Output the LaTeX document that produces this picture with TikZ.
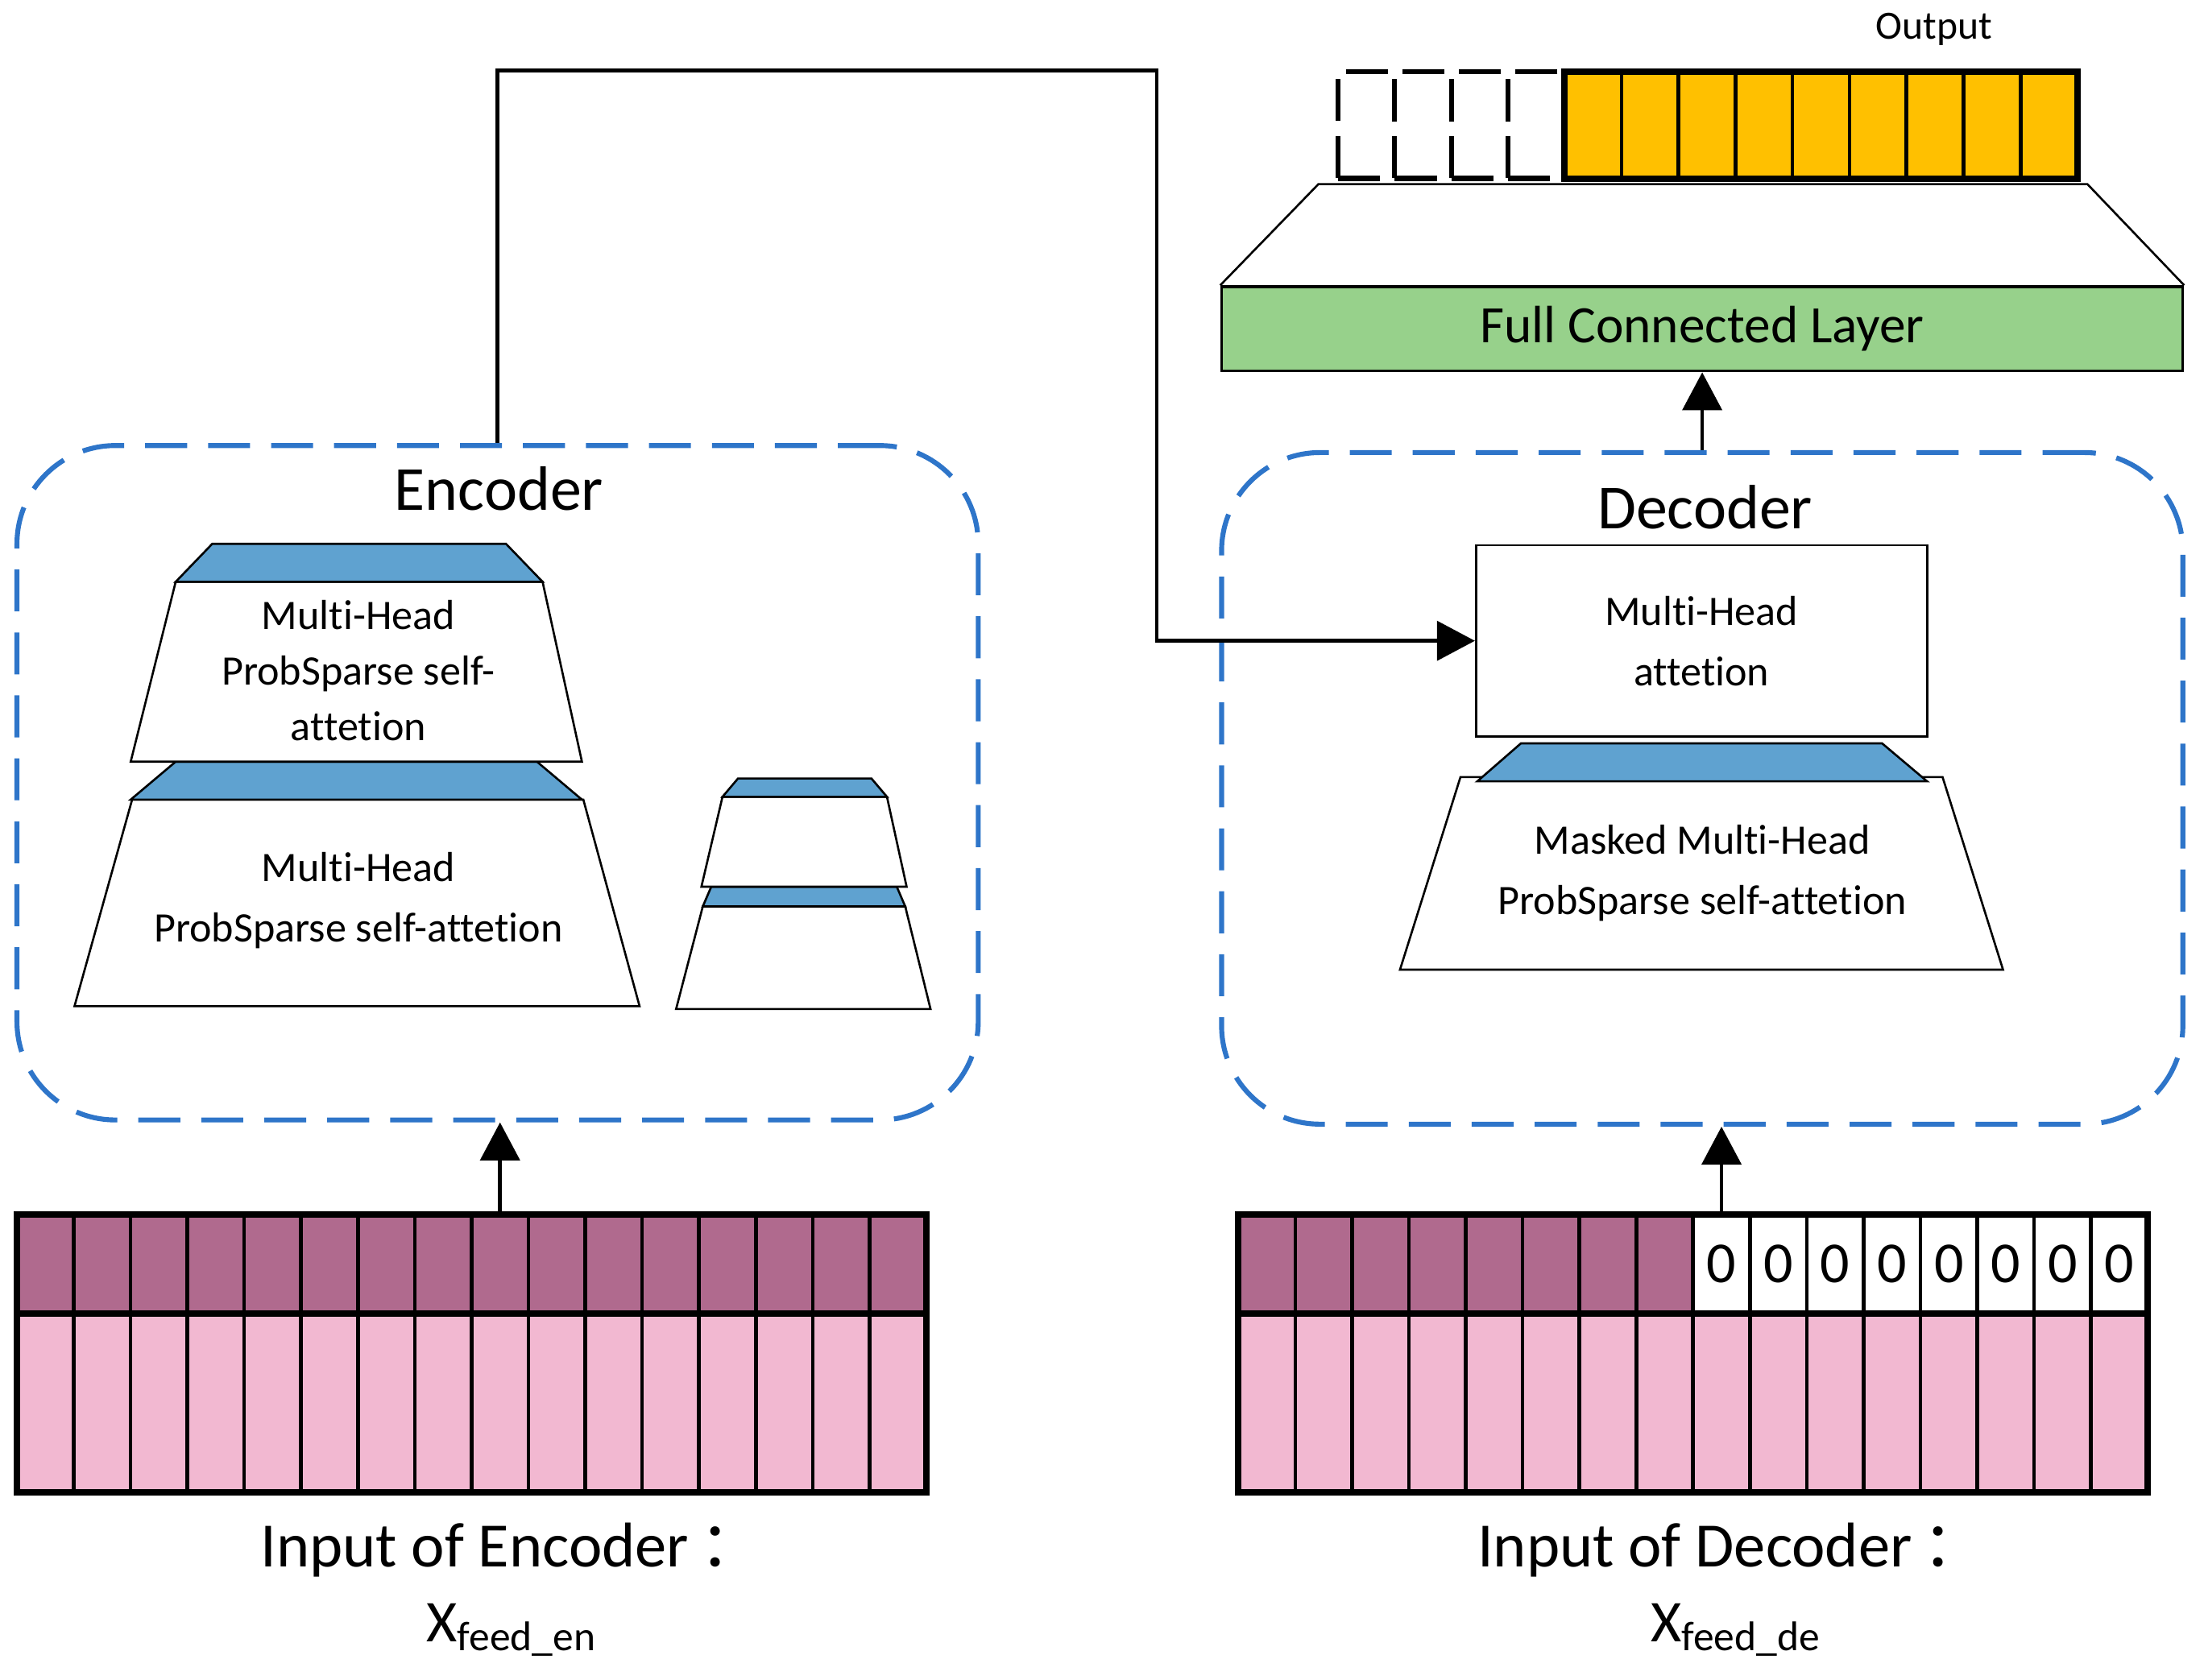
\documentclass[tikz,border=0pt]{standalone}
\usepackage{fontspec}
\setmainfont{Carlito}[Ligatures=NoCommon]
\newfontfamily\cjk{Noto Sans CJK SC}
\usetikzlibrary{positioning, arrows.meta}

\definecolor{boxblue}{HTML}{2E75C9}
\definecolor{capblue}{HTML}{5FA2D0}
\definecolor{mauve}{HTML}{B06A8E}
\definecolor{pinkcell}{HTML}{F2B8D1}
\definecolor{fcgreen}{HTML}{97D18B}
\definecolor{outgold}{HTML}{FFC000}

\tikzset{
  dashbox/.style={draw=boxblue, line width=2pt, dash pattern=on 17pt off 8.5pt,
    rounded corners=1.4cm, minimum width=13.68cm, inner sep=0pt},
  boxtitle/.style={font=\fontsize{25.4}{30}\selectfont, inner sep=0pt},
  layertext/.style={align=center, inner sep=0pt, font=\fontsize{17}{24.5}\selectfont},
  trapbody/.style={draw=black, line width=0.85pt, fill=white},
  trapcap/.style={draw=black, line width=0.85pt, fill=capblue},
  cell/.style={draw=black, line width=1.5pt, minimum width=0.809cm,
    inner sep=0pt, outer sep=0pt, anchor=north west},
  flow/.style={line width=1.5pt, -{Triangle[length=0.54cm, width=0.56cm]}},
  inlabel/.style={font=\fontsize{25.6}{30}\selectfont, inner sep=0pt},
}

\begin{document}
\begin{tikzpicture}[x=0.02cm, y=-0.02cm]
\useasboundingbox (0,0) rectangle (1568,1195);

% encoder
\node[dashbox, minimum height=9.6cm] (enc) at (354,557) {};
\node[boxtitle] (enctitle) at (355,348) {Encoder};

\draw[trapbody] (94,569) -- (415,569) -- (455,716) -- (53,716) -- cycle;
\draw[trapcap] (125,542) -- (382,542) -- (414,569) -- (93,569) -- cycle;
\draw[trapbody] (125,414) -- (386,414) -- (414,542) -- (93,542) -- cycle;
\draw[trapcap] (151,387) -- (360,387) -- (386,414) -- (125,414) -- cycle;
\node[layertext, font=\fontsize{17}{22.5}\selectfont] (attA) at (255,477)
  {Multi-Head\\ProbSparse self-\\attetion};
\node[layertext] (attB) at (255,641) {Multi-Head\\ProbSparse self-attetion};

% small stack
\draw[trapbody] (500,645) -- (644,645) -- (662,718) -- (481,718) -- cycle;
\draw[trapcap] (506,631) -- (638,631) -- (644,645) -- (500,645) -- cycle;
\draw[trapbody] (514,567) -- (631,567) -- (645,631) -- (499,631) -- cycle;
\draw[trapcap] (525,554) -- (620,554) -- (631,567) -- (514,567) -- cycle;

% decoder
\node[dashbox, minimum height=9.56cm] (dec) at (1211,561) {};
\node[boxtitle] (dectitle) at (1213,361) {Decoder};
\node[draw, line width=0.85pt, minimum width=6.42cm, minimum height=2.72cm,
  layertext] (att) at (1210.5,456) {Multi-Head\\attetion};
\draw[trapbody] (1039,553) -- (1382,553) -- (1425,690) -- (996,690) -- cycle;
\draw[trapcap] (1082,529) -- (1339,529) -- (1371,556) -- (1051,556) -- cycle;
\node[layertext] (masked) at (1211,621.5) {Masked Multi-Head\\ProbSparse self-attetion};

% fully connected + output
\node[draw, line width=1.1pt, fill=fcgreen, minimum width=13.68cm, minimum height=1.2cm,
  font=\fontsize{21.3}{25}\selectfont] (fc) at (1211,234) {Full Connected Layer};
\draw[line width=0.85pt] (fc.north west) -- (938,131) -- (1485,131) -- (fc.north east);

\foreach \i in {0,...,3}
  \node[cell, line width=2pt, dash pattern=on 17pt off 6pt, minimum width=0.805cm,
    minimum height=1.52cm] (pad\i) at ({952+\i*40.25},51) {};
\foreach \i in {0,...,8}
  \node[cell, fill=outgold, minimum width=0.811cm, minimum height=1.52cm] (out\i)
    at ({1113+\i*40.56},51) {};
\draw[line width=2.6pt] (out0.north west) rectangle (out8.south east);
\node[font=\fontsize{16.2}{20}\selectfont, inner sep=0pt] (outlbl) at (1376,21) {Output};

% encoder input
\foreach \i in {0,...,15} {
  \node[cell, fill=mauve, minimum height=1.42cm] (ec\i) at ({12+\i*40.44},864) {};
  \node[cell, fill=pinkcell, minimum height=2.54cm] (ep\i) at ({12+\i*40.44},935) {};
}
\draw[line width=2.6pt] (ec0.north west) rectangle (ep15.south east);
\draw[line width=2.6pt] (ec0.south west) -- (ec15.south east);

% decoder input
\foreach \i in {0,...,15}
  \node[cell, fill=pinkcell, minimum height=2.54cm] (dp\i) at ({881+\i*40.44},935) {};
\foreach \i in {0,...,7}
  \node[cell, fill=mauve, minimum height=1.42cm] (dc\i) at ({881+\i*40.44},864) {};
\foreach \i in {8,...,15}
  \node[cell, fill=white, minimum height=1.42cm, font=\fontsize{23.5}{26}\selectfont]
    (dc\i) at ({881+\i*40.44},864) {0};
\draw[line width=2.6pt] (dc0.north west) rectangle (dp15.south east);
\draw[line width=2.6pt] (dc0.south west) -- (dc15.south east);

% labels
\node[inlabel] (enclbl) at (364,1103) {Input of Encoder\,{\cjk ：}};
\node[inlabel, font=\fontsize{24}{28}\selectfont] (encx) at (364,1160) {X\textsubscript{feed\_en}};
\node[inlabel] (declbl) at (1232,1103) {Input of Decoder\,{\cjk ：}};
\node[inlabel, font=\fontsize{24}{28}\selectfont] (decx) at (1235,1160) {X\textsubscript{feed\_de}};

% connectors
\coordinate (bend) at (823,50);
\draw[flow] (enc.north) |- (bend) |- (att.west);
\draw[flow] (ec8.north) -- (ec8.north |- enc.south);
\draw[flow] (dc8.north) -- (dc8.north |- dec.south);
\draw[flow] (dec.north) -- (fc.south);
\end{tikzpicture}
\end{document}
